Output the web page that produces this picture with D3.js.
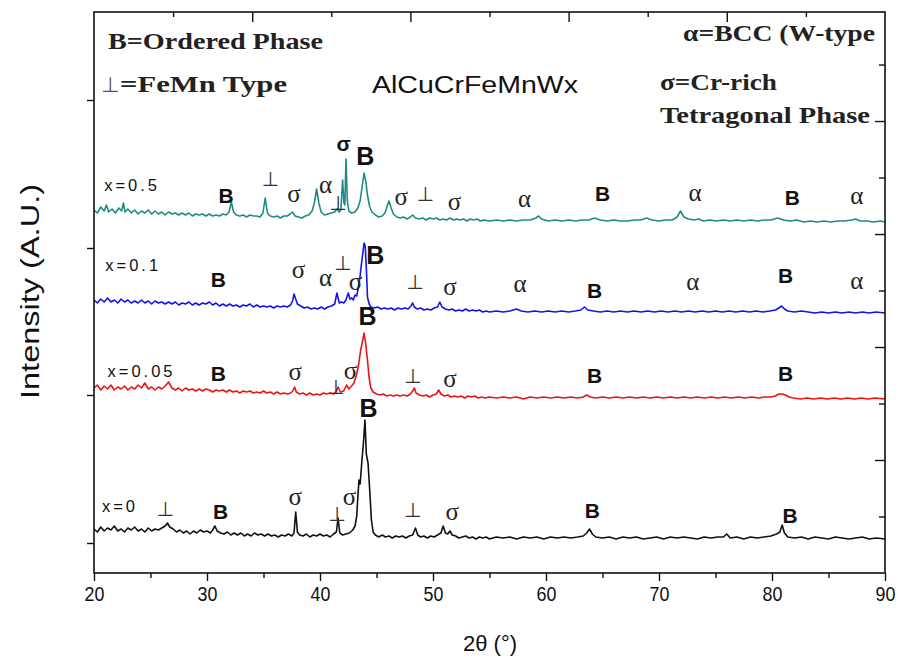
<!DOCTYPE html>
<html>
<head>
<meta charset="utf-8">
<script src="https://cdn.jsdelivr.net/npm/d3@7"></script>
<style>
  body { margin: 0; background: #fff; }
  svg { display: block; }
</style>
</head>
<body>
<svg id="chart" width="898" height="665"></svg>
<script>
// ---------- data ----------
// XRD patterns of AlCuCrFeMnWx, [2θ (deg), intensity a.u.] above each pattern's own zero line
const seriesNames = ["x=0.5", "x=0.1", "x=0.05", "x=0"];
const seriesColors = ["#1f8c84", "#1414e8", "#ef1414", "#111111"];
const seriesOffsets = [348, 257, 171, 31];          // vertical stacking offsets (a.u.)
const seriesLabelTheta = [20.9, 21.0, 21.2, 20.7];
const seriesLabelLevel = [382, 302, 196, 61];

const patternX05 = [
  [20,15],[20.3,12],[20.6,18],[20.9,14],[21.1,20],[21.3,13],[21.6,16],[21.9,12],[22.2,17],[22.45,14],[22.6,22],[22.75,13],
  [23,16],[23.3,12],[23.6,15],[23.9,11],[24.2,14],[24.5,12],[24.8,15],[25.1,11],[25.4,14],[25.7,11],[26,13],[26.3,10],
  [26.6,13],[26.9,11],[27.2,12],[27.5,10],[27.8,12],[28.1,10],[28.4,12],[28.7,9],[29,11],[29.3,10],[29.6,11],[29.9,9],
  [30.2,11],[30.5,9],[30.8,10],[31.1,9],[31.4,11],[31.7,10],[31.95,13],[32.15,23],[32.35,13],[32.6,10],[32.9,9],[33.2,10],
  [33.5,8],[33.8,10],[34.1,9],[34.4,9],[34.7,8],[34.95,12],[35.15,27],[35.35,12],[35.6,9],[35.9,8],[36.2,9],[36.5,7],
  [36.8,9],[37.1,9],[37.35,11],[37.55,13],[37.8,9],[38.1,8],[38.4,7],[38.7,9],[39,10],[39.3,14],[39.5,22],[39.7,36],
  [39.9,22],[40.1,13],[40.4,10],[40.7,11],[41,12],[41.3,13],[41.5,16],[41.7,13],[41.85,15],[42,45],[42.12,22],[42.2,20],
  [42.3,66],[42.42,24],[42.55,14],[42.8,12],[43.1,13],[43.35,17],[43.55,24],[43.75,40],[43.9,52],[44.05,44],[44.2,30],
  [44.4,18],[44.6,13],[44.9,10],[45.2,8],[45.5,9],[45.75,12],[45.95,19],[46.1,24],[46.3,17],[46.5,11],[46.8,8],[47.1,7],
  [47.4,8],[47.7,6],[48,8],[48.2,10],[48.45,7],[48.8,6],[49.1,7],[49.4,5],[49.7,7],[50,6],[50.3,7],[50.6,5],[50.9,6],
  [51.2,5],[51.5,7],[51.8,5],[52.1,6],[52.4,5],[52.7,6],[53,4],[53.3,6],[53.6,5],[53.9,6],[54.2,4],[54.5,5],[55,4],
  [55.6,5],[56.2,4],[56.8,5],[57.4,4],[58,5],[58.6,5],[59.1,7],[59.35,9],[59.6,6],[60.2,4],[60.8,5],[61.4,4],[62,5],
  [62.6,4],[63.2,5],[63.8,5],[64.3,7],[64.8,5],[65.4,4],[66,5],[66.6,4],[67.2,4],[67.8,5],[68.4,5],[68.9,7],[69.4,5],
  [70,4],[70.6,5],[71.2,5],[71.6,8],[71.9,14],[72.2,8],[72.6,6],[73.1,5],[73.5,6],[73.9,4],[74.5,5],[75.1,4],[75.7,5],
  [76.3,4],[76.9,5],[77.5,4],[78.1,5],[78.7,4],[79.3,5],[79.9,5],[80.5,7],[81,5],[81.6,4],[82.2,5],[82.8,3],[83.4,4],
  [84,3],[84.6,4],[85.2,3],[85.8,4],[86.4,4],[87.1,5],[87.4,6],[87.8,4],[88.4,4],[89,3],[89.6,4],[90,3]
];

const patternX01 = [
  [20,16],[20.3,13],[20.6,17],[20.9,14],[21.2,18],[21.5,14],[21.8,16],[22.1,13],[22.4,17],[22.7,14],[23,16],[23.3,13],
  [23.6,15],[23.9,13],[24.2,16],[24.5,13],[24.8,15],[25.1,12],[25.4,15],[25.7,13],[26,14],[26.3,12],[26.6,14],[26.9,12],
  [27.2,14],[27.5,11],[27.8,13],[28.1,12],[28.4,14],[28.7,11],[29,13],[29.3,11],[29.6,13],[29.9,12],[30.2,14],[30.5,11],
  [30.8,13],[31.1,10],[31.4,12],[31.7,10],[32,12],[32.3,10],[32.6,11],[32.9,9],[33.2,11],[33.5,10],[33.8,12],[34.1,9],
  [34.4,11],[34.7,9],[35,10],[35.3,9],[35.6,10],[35.9,8],[36.2,10],[36.5,9],[36.8,10],[37.1,9],[37.4,11],[37.6,16],
  [37.7,22],[37.85,17],[38,12],[38.3,10],[38.6,8],[38.9,9],[39.2,7],[39.5,8],[39.8,7],[40.1,9],[40.4,7],[40.7,9],
  [41,10],[41.3,12],[41.5,23],[41.7,13],[41.9,14],[42.1,13],[42.3,16],[42.5,23],[42.65,17],[42.8,18],[42.95,16],[43.1,21],
  [43.25,20],[43.4,29],[43.55,40],[43.7,55],[43.8,64],[43.9,73],[44,70],[44.1,48],[44.2,19],[44.35,12],[44.5,9],[44.8,8],
  [45.1,9],[45.4,7],[45.7,8],[46,7],[46.3,8],[46.6,6],[46.9,8],[47.2,7],[47.5,8],[47.8,7],[48.05,10],[48.2,13],
  [48.35,9],[48.6,7],[48.9,8],[49.2,6],[49.5,7],[49.8,6],[50.1,8],[50.4,9],[50.6,14],[50.8,9],[51.1,7],[51.4,6],
  [51.7,7],[52,5],[52.3,6],[52.6,5],[52.9,7],[53.2,5],[53.5,6],[53.8,5],[54.1,6],[54.4,4],[54.7,5],[55,4],
  [55.6,5],[56.2,4],[56.8,5],[57.4,7],[57.8,5],[58.4,4],[59,5],[59.6,4],[60.2,5],[60.8,4],[61.4,5],[62,4],
  [62.6,5],[63.1,6],[63.4,9],[63.7,6],[64.2,5],[64.8,4],[65.4,5],[66,4],[66.6,5],[67.2,4],[67.8,5],[68.4,4],
  [69,5],[69.6,4],[70.2,5],[70.8,4],[71.4,5],[72,4],[72.6,5],[73.2,4],[73.8,5],[74.4,4],[75,5],[75.6,4],
  [76.2,5],[76.8,4],[77.4,5],[78,4],[78.6,5],[79.2,4],[79.8,5],[80.3,6],[80.6,8],[80.85,10],[81.1,7],[81.4,5],
  [82,4],[82.6,5],[83.2,4],[83.8,3],[84.4,4],[85,3],[85.6,4],[86.2,3],[86.8,4],[87.4,3],[88,4],[88.6,3],[89.2,4],[90,3]
];

const patternX005 = [
  [20,14],[20.3,17],[20.6,12],[20.9,16],[21.2,13],[21.5,17],[21.8,12],[22.1,15],[22.4,13],[22.7,16],[23,12],[23.3,15],
  [23.6,13],[23.9,17],[24.2,14],[24.5,19],[24.8,13],[25.1,15],[25.4,12],[25.7,15],[26,13],[26.3,16],[26.6,20],[26.9,14],
  [27.2,12],[27.5,14],[27.8,11],[28.1,14],[28.4,12],[28.7,13],[29,11],[29.3,13],[29.6,11],[29.9,13],[30.2,12],[30.5,10],
  [30.8,12],[31.1,11],[31.4,12],[31.7,10],[32,12],[32.3,10],[32.6,11],[32.9,9],[33.2,11],[33.5,10],[33.8,11],[34.1,9],
  [34.4,10],[34.7,9],[35,11],[35.3,9],[35.6,10],[35.9,8],[36.2,10],[36.5,8],[36.8,9],[37.1,8],[37.4,9],[37.6,11],
  [37.75,15],[37.9,10],[38.2,8],[38.5,9],[38.8,7],[39.1,9],[39.4,7],[39.7,8],[40,7],[40.3,9],[40.6,8],[40.9,9],
  [41.2,8],[41.45,11],[41.6,15],[41.8,10],[42.1,11],[42.35,17],[42.55,13],[42.8,16],[43,19],[43.2,26],[43.4,36],[43.6,52],
  [43.75,60],[43.9,69],[44.05,58],[44.2,42],[44.35,24],[44.5,14],[44.7,10],[45,8],[45.3,7],[45.6,8],[45.9,6],[46.2,7],
  [46.5,6],[46.8,7],[47.1,6],[47.4,7],[47.7,6],[48,8],[48.2,11],[48.35,14],[48.5,9],[48.8,7],[49.1,6],[49.4,7],
  [49.7,5],[50,7],[50.3,8],[50.5,12],[50.7,8],[51,6],[51.3,7],[51.6,5],[51.9,6],[52.2,5],[52.5,6],[52.8,4],
  [53.1,6],[53.4,5],[53.7,6],[54,4],[54.3,5],[54.6,4],[55,5],[55.6,4],[56.2,5],[56.8,4],[57.4,5],[58,3],
  [58.6,5],[59.2,4],[59.8,5],[60.4,4],[61,5],[61.6,4],[62.2,5],[62.8,4],[63.3,5],[63.6,7],[63.9,5],[64.4,4],
  [65,5],[65.6,4],[66.2,5],[66.8,4],[67.4,5],[68,4],[68.6,5],[69.2,4],[69.8,5],[70.4,4],[71,5],[71.6,4],
  [72.2,5],[72.8,4],[73.4,5],[74,4],[74.6,5],[75.2,4],[75.8,5],[76.4,4],[77,5],[77.6,4],[78.2,5],[78.8,4],
  [79.4,5],[79.9,5],[80.3,6],[80.6,8],[80.9,8],[81.2,7],[81.5,5],[81.9,4],[82.5,3],[83.1,4],[83.7,3],[84.3,4],
  [84.9,3],[85.5,4],[86.1,3],[86.7,4],[87.3,3],[87.9,4],[88.5,3],[89.1,4],[90,3]
];

const patternX0 = [
  [20,13],[20.3,10],[20.6,15],[20.9,11],[21.2,14],[21.5,12],[21.8,16],[22.1,11],[22.4,13],[22.7,10],[23,14],[23.3,12],
  [23.6,15],[23.9,11],[24.2,13],[24.5,10],[24.8,14],[25.1,11],[25.4,13],[25.7,12],[26,14],[26.3,16],[26.5,19],[26.7,15],
  [27,13],[27.3,10],[27.6,12],[27.9,9],[28.2,11],[28.5,8],[28.8,11],[29.1,9],[29.4,12],[29.7,10],[30,11],[30.3,9],
  [30.5,12],[30.7,16],[30.9,11],[31.2,9],[31.5,8],[31.8,10],[32.1,7],[32.4,9],[32.7,7],[33,9],[33.3,6],[33.6,8],
  [33.9,6],[34.2,9],[34.5,7],[34.8,8],[35.1,6],[35.4,8],[35.7,6],[36,7],[36.3,5],[36.6,7],[36.9,6],[37.2,8],
  [37.5,6],[37.7,9],[37.85,30],[38,10],[38.2,7],[38.5,6],[38.8,8],[39.1,5],[39.4,7],[39.7,6],[40,8],[40.3,6],
  [40.6,7],[40.9,5],[41.2,8],[41.45,10],[41.6,24],[41.75,9],[42,7],[42.3,8],[42.6,9],[42.9,12],[43.1,16],[43.25,26],
  [43.35,45],[43.45,62],[43.55,58],[43.7,80],[43.85,100],[43.98,122],[44.1,88],[44.25,79],[44.4,52],[44.55,22],[44.7,10],[44.9,7],
  [45.2,5],[45.5,7],[45.8,5],[46.1,6],[46.4,4],[46.7,6],[47,5],[47.3,6],[47.6,4],[47.9,6],[48.2,7],[48.45,14],
  [48.65,7],[48.9,5],[49.2,6],[49.5,4],[49.8,6],[50.1,5],[50.4,7],[50.7,9],[50.9,16],[51.1,9],[51.3,8],[51.5,11],
  [51.7,7],[52,6],[52.3,4],[52.6,5],[52.9,6],[53.2,4],[53.5,5],[53.8,3],[54.1,5],[54.4,4],[54.7,5],[55,3],
  [55.6,5],[56.2,4],[56.8,5],[57.4,3],[58,5],[58.6,4],[59.2,5],[59.8,3],[60.4,5],[61,4],[61.6,5],[62.2,4],
  [62.8,5],[63.3,6],[63.6,9],[63.85,13],[64.1,8],[64.4,5],[65,4],[65.6,5],[66.2,3],[66.8,5],[67.4,4],[68,5],
  [68.6,3],[69.2,4],[69.8,5],[70.4,3],[71,5],[71.6,4],[72.2,5],[72.8,4],[73.4,3],[74,5],[74.6,4],[75.2,5],
  [75.7,5],[76,8],[76.3,4],[76.9,5],[77.5,3],[78.1,5],[78.7,4],[79.3,5],[79.9,6],[80.4,8],[80.7,10],[80.9,17],
  [81.1,9],[81.4,5],[82,4],[82.6,5],[83.2,3],[83.8,5],[84.4,4],[85,3],[85.6,5],[86.2,4],[86.8,3],[87.4,4],
  [88,5],[88.6,3],[89.2,4],[90,3]
];

const patterns = [patternX05, patternX01, patternX005, patternX0];

// phase markers: glyph, 2θ position, height (a.u., centre of glyph)
const annText = [
  "B","⊥","σ","α","⊥","σ","B","σ","⊥","σ","α","B","α","B","α",
  "B","σ","α","⊥","σ","B","⊥","σ","α","B","α","B","α",
  "B","σ","⊥","σ","B","⊥","σ","B","B",
  "⊥","B","σ","⊥","σ","B","⊥","σ","B","B"
];
const annTheta = [
  31.7,35.6,37.7,40.5,41.6,42.1,44.0,47.2,49.3,51.9,58.1,65.0,73.2,81.8,87.5,
  31.0,38.1,40.5,42.0,43.15,44.9,48.4,51.5,57.7,64.3,73.0,81.2,87.5,
  31.0,37.8,41.4,42.7,44.2,48.2,51.5,64.3,81.2,
  26.3,31.2,37.8,41.5,42.6,44.3,48.2,51.7,64.1,81.6
];
const annLevel = [
  378,394,376,385,370,428,417,373,379,368,371,380,377,376,374,
  294,300,292,310,288,318,291,283,286,283,288,298,289,
  200,198,186,199,257,197,191,198,200,
  64,62,73,59,73,165,63,58,63,58
];

const xTickValues = [20, 30, 40, 50, 60, 70, 80, 90];
const xMinorValues = [25, 35, 45, 55, 65, 75, 85];
const leftTickValues = [30, 178, 325, 473];

// ---------- layout ----------
const plotL = 94, plotR = 885, plotT = 12, plotB = 573;

const svg = d3.select("#chart");
const x = d3.scaleLinear().domain([20, 90]).range([plotL, plotR]);
const y = d3.scaleLinear().domain([0, 561]).range([plotB, plotT]);
const yRight = d3.scaleLinear().domain([0, 9.93]).range([plotB, plotT]);
const xTop = d3.scaleLinear().domain([0, 10]).range([plotL, plotR]);

const SANS = "'Liberation Sans', Arial, Helvetica, sans-serif";
const SERIF = "'Liberation Serif', 'Times New Roman', serif";
const SYM = "'DejaVu Sans', sans-serif";

svg.append("defs").append("clipPath").attr("id", "plotClip")
  .append("rect").attr("x", plotL).attr("y", plotT)
  .attr("width", plotR - plotL).attr("height", plotB - plotT);

// ---------- patterns ----------
const line = d3.line().x(d => x(d[0]));
const gTraces = svg.append("g").attr("clip-path", "url(#plotClip)");
patterns.forEach((pts, i) => {
  gTraces.append("path")
    .datum(pts)
    .attr("fill", "none")
    .attr("stroke", seriesColors[i])
    .attr("stroke-width", 1.6)
    .attr("stroke-linejoin", "round")
    .attr("d", line.y(d => y(d[1] + seriesOffsets[i])));
});

// ---------- axes ----------
function styleAxis(g) {
  g.select(".domain").remove();
  g.selectAll(".tick line").attr("stroke", "#111").attr("stroke-width", 1.4);
}

svg.append("g").attr("transform", `translate(0,${plotB})`)
  .call(d3.axisBottom(x).tickValues(xTickValues).tickSize(8).tickPadding(5).tickFormat(d3.format("d")))
  .call(styleAxis)
  .call(g => g.selectAll("text")
    .attr("font-family", SANS).attr("font-size", 21).attr("fill", "#111")
    .attr("transform", "scale(0.85,1)"));

svg.append("g").attr("transform", `translate(0,${plotB})`)
  .call(d3.axisBottom(x).tickValues(xMinorValues).tickSize(5).tickFormat(""))
  .call(styleAxis);

svg.append("g").attr("transform", `translate(${plotL},0)`)
  .call(d3.axisLeft(y).tickValues(leftTickValues).tickSize(7).tickFormat(""))
  .call(styleAxis);

svg.append("g").attr("transform", `translate(${plotR},0)`)
  .call(d3.axisRight(yRight).tickValues([2, 4, 6, 8]).tickSize(-10).tickFormat(""))
  .call(styleAxis);
svg.append("g").attr("transform", `translate(${plotR},0)`)
  .call(d3.axisRight(yRight).tickValues([1, 3, 5, 7, 9]).tickSize(-6).tickFormat(""))
  .call(styleAxis);

svg.append("g").attr("transform", `translate(0,${plotT})`)
  .call(d3.axisTop(xTop).tickValues([2, 4, 6, 8]).tickSize(-10).tickFormat(""))
  .call(styleAxis);
svg.append("g").attr("transform", `translate(0,${plotT})`)
  .call(d3.axisTop(xTop).tickValues([1, 3, 5, 7, 9]).tickSize(-5).tickFormat(""))
  .call(styleAxis);

// frame
svg.append("rect")
  .attr("x", plotL).attr("y", plotT)
  .attr("width", plotR - plotL).attr("height", plotB - plotT)
  .attr("fill", "none").attr("stroke", "#111").attr("stroke-width", 1.6);

// axis titles
svg.append("text")
  .attr("transform", `translate(39,${(183 + 400) / 2}) rotate(-90)`)
  .attr("text-anchor", "middle")
  .attr("font-family", SANS).attr("font-size", 25).attr("fill", "#111")
  .attr("textLength", 215).attr("lengthAdjust", "spacingAndGlyphs")
  .text("Intensity (A.U.)");

svg.append("text")
  .attr("x", 490).attr("y", 651)
  .attr("text-anchor", "middle")
  .attr("font-family", SANS).attr("font-size", 22).attr("fill", "#111")
  .text("2θ (°)");

// ---------- series labels ----------
seriesNames.forEach((name, i) => {
  svg.append("text")
    .attr("x", x(seriesLabelTheta[i])).attr("y", y(seriesLabelLevel[i]))
    .attr("font-family", SANS).attr("font-size", 16.5).attr("fill", "#111")
    .attr("letter-spacing", 3)
    .text(name);
});

// ---------- phase markers ----------
const peakLabels = new Set([5, 6, 20, 32, 42]);
annText.forEach((t, i) => {
  const cx = x(annTheta[i]);
  const cy = y(annLevel[i]);
  const big = peakLabels.has(i);
  const el = svg.append("text").attr("x", cx).attr("text-anchor", "middle").text(t);
  if (t === "B") {
    const fs = big ? 25 : 21;
    el.attr("font-family", SANS).attr("font-size", fs).attr("font-weight", "bold")
      .attr("fill", "#111").attr("y", cy + fs * 0.36);
  } else if (t === "⊥") {
    el.attr("font-family", SYM).attr("font-size", 20).attr("fill", "#333")
      .attr("y", cy + 7);
  } else if (big) {
    el.attr("font-family", SANS).attr("font-size", 21).attr("font-weight", "bold")
      .attr("fill", "#111").attr("y", cy + 6);
  } else {
    el.attr("font-family", SERIF).attr("font-size", 25).attr("fill", "#222")
      .attr("y", cy + 5);
  }
});

// ---------- legend & title ----------
svg.append("text")
  .attr("x", 108).attr("y", 49)
  .attr("font-family", SERIF).attr("font-weight", "bold").attr("font-size", 23).attr("fill", "#222")
  .attr("textLength", 215).attr("lengthAdjust", "spacingAndGlyphs")
  .text("B=Ordered Phase");

svg.append("text")
  .attr("x", 101).attr("y", 92)
  .attr("font-family", SYM).attr("font-size", 21).attr("fill", "#555")
  .text("⊥");
svg.append("text")
  .attr("x", 120).attr("y", 92)
  .attr("font-family", SERIF).attr("font-weight", "bold").attr("font-size", 23).attr("fill", "#222")
  .attr("textLength", 167).attr("lengthAdjust", "spacingAndGlyphs")
  .text("=FeMn Type");

svg.append("text")
  .attr("x", 372).attr("y", 93)
  .attr("font-family", SANS).attr("font-size", 23).attr("fill", "#111")
  .attr("textLength", 206).attr("lengthAdjust", "spacingAndGlyphs")
  .text("AlCuCrFeMnWx");

svg.append("text")
  .attr("x", 683).attr("y", 41)
  .attr("font-family", SERIF).attr("font-weight", "bold").attr("font-size", 23).attr("fill", "#222")
  .attr("textLength", 192).attr("lengthAdjust", "spacingAndGlyphs")
  .text("α=BCC (W-type");

svg.append("text")
  .attr("x", 660).attr("y", 90)
  .attr("font-family", SERIF).attr("font-weight", "bold").attr("font-size", 23).attr("fill", "#222")
  .attr("textLength", 117).attr("lengthAdjust", "spacingAndGlyphs")
  .text("σ=Cr-rich");

svg.append("text")
  .attr("x", 660).attr("y", 123)
  .attr("font-family", SERIF).attr("font-weight", "bold").attr("font-size", 23).attr("fill", "#222")
  .attr("textLength", 210).attr("lengthAdjust", "spacingAndGlyphs")
  .text("Tetragonal Phase");
</script>
</body>
</html>
